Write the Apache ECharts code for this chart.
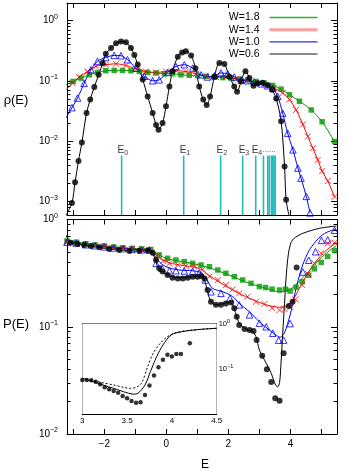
<!DOCTYPE html>
<html><head><meta charset="utf-8">
<script src="https://cdn.jsdelivr.net/npm/echarts@6/dist/echarts.min.js"></script>
<style>html,body{margin:0;padding:0;background:#fff}#c{width:347px;height:471px}</style>
</head><body><div id="c"></div>
<script>
// ---------------- DATA ----------------
// top panel: density of states rho(E), [E, rho]
const rhoW18 = [[-3.24,0.086],[-3.0,0.098],[-2.75,0.111],[-2.48,0.126],[-2.22,0.138],[-1.95,0.147],[-1.68,0.149],[-1.41,0.149],[-1.14,0.147],[-0.87,0.143],[-0.60,0.138],[-0.33,0.135],[-0.06,0.131],[0.20,0.131],[0.47,0.126],[0.74,0.124],[1.01,0.122],[1.28,0.119],[1.55,0.116],[1.82,0.113],[2.09,0.110],[2.35,0.107],[2.62,0.104],[2.89,0.098],[3.16,0.092],[3.43,0.084],[3.70,0.073],[3.97,0.059],[4.29,0.046],[4.67,0.033],[5.02,0.021],[5.42,0.0099]];
const rhoW14 = [[-3.24,0.070],[-3.02,0.092],[-2.81,0.116],[-2.54,0.143],[-2.27,0.173],[-1.95,0.185],[-1.62,0.192],[-1.30,0.180],[-0.98,0.158],[-0.66,0.143],[-0.33,0.138],[-0.01,0.143],[0.31,0.147],[0.63,0.143],[0.96,0.131],[1.28,0.119],[1.60,0.116],[1.92,0.116],[2.25,0.108],[2.57,0.100],[2.89,0.092],[3.22,0.084],[3.48,0.076],[3.75,0.063],[3.97,0.049],[4.18,0.033],[4.40,0.019],[4.56,0.012],[4.72,0.0077],[4.88,0.0049],[5.02,0.0032],[5.20,0.0022],[5.42,0.0012]];
const rhoW10 = [[-3.24,0.024],[-3.04,0.036],[-2.86,0.052],[-2.65,0.091],[-2.43,0.153],[-2.22,0.21],[-1.95,0.244],[-1.68,0.264],[-1.46,0.261],[-1.25,0.224],[-0.98,0.162],[-0.71,0.119],[-0.44,0.1005],[-0.23,0.104],[0.04,0.138],[0.31,0.173],[0.58,0.185],[0.85,0.163],[1.12,0.126],[1.33,0.116],[1.55,0.122],[1.76,0.135],[1.98,0.131],[2.19,0.116],[2.41,0.104],[2.62,0.1005],[2.84,0.0955],[3.05,0.0895],[3.27,0.083],[3.43,0.0759],[3.59,0.0552],[3.75,0.0292],[3.91,0.0136],[4.08,0.0072],[4.24,0.0036],[4.34,0.00245],[4.51,0.00122],[4.63,0.00065]];
const rhoW06 = [[-3.04,0.00095],[-2.94,0.0021],[-2.83,0.0047],[-2.72,0.0095],[-2.57,0.0295],[-2.45,0.049],[-2.32,0.079],[-2.18,0.126],[-2.05,0.197],[-1.95,0.282],[-1.78,0.349],[-1.62,0.422],[-1.46,0.45],[-1.30,0.437],[-1.14,0.349],[-1.03,0.269],[-0.92,0.186],[-0.76,0.105],[-0.60,0.055],[-0.44,0.0295],[-0.33,0.0186],[-0.25,0.0155],[-0.12,0.020],[-0.01,0.038],[0.10,0.081],[0.20,0.145],[0.37,0.251],[0.51,0.295],[0.63,0.309],[0.80,0.263],[0.94,0.162],[1.06,0.081],[1.19,0.049],[1.30,0.040],[1.41,0.055],[1.55,0.117],[1.71,0.197],[1.87,0.19],[2.03,0.117],[2.19,0.081],[2.28,0.066],[2.41,0.098],[2.55,0.145],[2.68,0.112],[2.81,0.083],[2.95,0.091],[3.11,0.093],[3.27,0.085],[3.41,0.071],[3.54,0.051],[3.70,0.0214],[3.81,0.0038],[3.86,0.00107]];
const rhoW06Ends = [[-3.23,0.0006],[3.95,0.0006]];   // where the W=0.6 curve meets the lower axis

// eigen-energy levels E_n (cyan impulses) and their tags
const levelE = [-1.44, 0.56, 1.75, 2.46, 2.88, 3.13, 3.27, 3.32, 3.39, 3.43, 3.47, 3.51];
const levelTags = ['E_0','E_1','E_2','E_3','E_4','......'];
const levelTop = 0.0058;
const levelTagAt = 0.0072;

// bottom panel: P(E), lines (theory) and points (simulation), [E, P]
const pW18Line = [[-3.24,0.636],[-2.16,0.578],[-1.09,0.538],[-0.55,0.527],[-0.33,0.484],[-0.01,0.435],[0.53,0.405],[1.06,0.377],[1.6,0.338],[2.14,0.293],[2.68,0.254],[3.22,0.228],[3.65,0.212],[3.9,0.217],[4.1,0.236],[4.4,0.288],[4.75,0.37],[5.1,0.47],[5.48,0.57]];
const pW18Pts = [[-3.2,0.63],[-2.9,0.615],[-2.6,0.595],[-2.3,0.58],[-2.0,0.567],[-1.7,0.555],[-1.4,0.545],[-1.1,0.538],[-0.8,0.532],[-0.5,0.525],[-0.23,0.467],[0.04,0.435],[0.31,0.419],[0.58,0.405],[0.85,0.39],[1.12,0.377],[1.39,0.363],[1.66,0.338],[1.92,0.315],[2.19,0.293],[2.46,0.273],[2.73,0.254],[3.0,0.237],[3.2,0.232],[3.41,0.224],[3.65,0.22],[3.84,0.224],[3.99,0.215],[4.18,0.234],[4.38,0.263],[4.59,0.302],[4.77,0.347],[4.99,0.398],[5.2,0.452],[5.42,0.513]];
const pW14Line = [[-3.24,0.612],[-2.16,0.56],[-1.09,0.53],[-0.55,0.52],[-0.33,0.467],[-0.01,0.405],[0.42,0.377],[1.06,0.351],[1.28,0.315],[1.6,0.273],[2.14,0.22],[2.68,0.184],[3.22,0.16],[3.65,0.152],[3.86,0.156],[4.1,0.182],[4.4,0.263],[4.7,0.363],[5.05,0.484],[5.48,0.61]];
const pW14Pts = [[-3.2,0.612],[-2.9,0.6],[-2.6,0.584],[-2.3,0.57],[-2.0,0.557],[-1.7,0.545],[-1.4,0.537],[-1.1,0.53],[-0.8,0.525],[-0.55,0.52],[-0.3,0.46],[-0.1,0.41],[0.10,0.39],[0.37,0.377],[0.63,0.368],[0.90,0.363],[1.17,0.343],[1.39,0.293],[1.66,0.273],[1.92,0.245],[2.14,0.223],[2.35,0.205],[2.62,0.191],[2.89,0.171],[3.16,0.163],[3.41,0.149],[3.65,0.143],[3.81,0.146],[3.99,0.152],[4.16,0.18],[4.38,0.245],[4.57,0.31],[4.77,0.39],[4.99,0.484],[5.2,0.6],[5.42,0.608]];
const pW10Line = [[-3.24,0.612],[-2.16,0.558],[-1.09,0.527],[-0.55,0.52],[-0.42,0.484],[-0.28,0.419],[-0.01,0.363],[0.42,0.338],[0.85,0.333],[1.12,0.319],[1.28,0.282],[1.49,0.228],[1.82,0.212],[2.14,0.191],[2.35,0.165],[2.68,0.138],[3.0,0.111],[3.32,0.0933],[3.55,0.0832],[3.67,0.0798],[3.8,0.0871],[3.9,0.105],[4.0,0.132],[4.2,0.24],[4.4,0.38],[4.6,0.513],[4.8,0.617],[5.0,0.708],[5.2,0.767],[5.48,0.813]];
const pW10Pts = [[-3.2,0.615],[-2.9,0.603],[-2.6,0.582],[-2.3,0.569],[-2.0,0.556],[-1.7,0.543],[-1.4,0.535],[-1.1,0.527],[-0.8,0.522],[-0.55,0.519],[-0.33,0.39],[-0.14,0.351],[0.10,0.333],[0.31,0.333],[0.58,0.331],[0.85,0.327],[1.06,0.319],[1.26,0.273],[1.44,0.212],[1.76,0.205],[2.05,0.184],[2.35,0.16],[2.68,0.129],[3.0,0.108],[3.22,0.1],[3.43,0.087],[3.62,0.075],[3.78,0.075],[3.99,0.107],[4.40,0.324],[4.59,0.417],[4.81,0.501],[5.0,0.638],[5.2,0.646],[5.42,0.794]];
const pW06Line = [[-3.24,0.716],[-3.13,0.644],[-2.91,0.6],[-2.5,0.569],[-2.0,0.537],[-1.5,0.519],[-1.0,0.509],[-0.6,0.511],[-0.39,0.45],[-0.28,0.363],[-0.12,0.327],[0.10,0.299],[0.42,0.287],[0.85,0.293],[1.12,0.303],[1.23,0.273],[1.33,0.212],[1.44,0.171],[1.60,0.16],[2.03,0.168],[2.14,0.16],[2.25,0.129],[2.35,0.108],[2.52,0.0966],[2.78,0.0899],[2.89,0.0809],[3.0,0.0607],[3.22,0.0456],[3.38,0.0368],[3.52,0.0286],[3.59,0.0276],[3.65,0.0302],[3.70,0.0479],[3.75,0.0851],[3.81,0.166],[3.87,0.316],[3.93,0.468],[4.0,0.589],[4.1,0.661],[4.4,0.743],[4.94,0.828],[5.48,0.869]];
const pW06Pts = [[-3.24,0.621],[-3.08,0.608],[-2.86,0.592],[-2.65,0.578],[-2.43,0.566],[-2.16,0.55],[-1.84,0.531],[-1.52,0.52],[-1.19,0.508],[-0.87,0.508],[-0.60,0.513],[-0.44,0.491],[-0.33,0.419],[-0.23,0.351],[-0.12,0.327],[0.04,0.303],[0.20,0.287],[0.37,0.282],[0.53,0.282],[0.69,0.287],[0.85,0.293],[1.01,0.293],[1.12,0.297],[1.23,0.282],[1.33,0.22],[1.44,0.171],[1.60,0.16],[1.76,0.16],[1.92,0.165],[2.09,0.168],[2.19,0.149],[2.27,0.124],[2.35,0.104],[2.52,0.0953],[2.68,0.0933],[2.81,0.0912],[2.91,0.0752],[3.09,0.0537],[3.24,0.0401],[3.38,0.0305],[3.51,0.0215],[3.65,0.0204],[3.78,0.0565],[3.95,0.156],[4.07,0.171],[4.20,0.356]];

// inset: zoom of W=0.6 near the band edge
const insetPts = [[3.0,0.0564],[3.05,0.0564],[3.1,0.0556],[3.15,0.0513],[3.2,0.0452],[3.25,0.0389],[3.3,0.0351],[3.35,0.0324],[3.4,0.0295],[3.45,0.0251],[3.5,0.0222],[3.55,0.0194],[3.6,0.0178],[3.65,0.0182],[3.7,0.0263],[3.75,0.0427],[3.8,0.0708],[3.85,0.108],[3.9,0.158],[3.95,0.204],[4.0,0.186],[4.05,0.212],[4.1,0.212],[4.2,0.365]];
const insetSolid = [[3.0,0.0617],[3.12,0.0518],[3.23,0.0438],[3.35,0.0369],[3.46,0.0311],[3.57,0.0275],[3.62,0.0286],[3.70,0.0438],[3.76,0.0861],[3.83,0.185],[3.90,0.335],[3.99,0.557],[4.11,0.659],[4.33,0.745],[4.5,0.783]];
const insetDashed = [[3.0,0.0617],[3.12,0.0545],[3.23,0.049],[3.35,0.0437],[3.46,0.0389],[3.53,0.0369],[3.60,0.0389],[3.66,0.0476],[3.73,0.111],[3.79,0.219],[3.87,0.365],[3.95,0.513],[4.05,0.631],[4.2,0.708],[4.5,0.785]];

// axis ranges and tick labels
const eRange = [-3.2, 5.5];
const eTicks = [-3,-2,-1,0,1,2,3,4,5];
const eLabels = [-2,0,2,4];
const rhoRange = [0.0006, 1.95];
const pRange = [0.01, 1];
const insetERange = [3, 4.5];
const insetETicks = [3,3.25,3.5,3.75,4,4.25,4.5];
const insetELabels = [3,3.5,4,4.5];
const insetPRange = [0.01, 1];
const insetPLabelExps = [-1, 0];
const seriesNames = ['W=1.8','W=1.4','W=1.0','W=0.6'];

// ---------------- CHART ----------------
const FONT = '"Liberation Sans", Arial, Helvetica, sans-serif';
const lg = v => Math.log10(v);
const tr = a => a.map(p => [p[0], lg(p[1])]);
const minus = v => (v < 0 ? '\u2212' + (-v) : String(v));

function logTicks(lo, hi) {
  const a = lg(lo) - 1e-9, b = lg(hi) + 1e-9, major = [], minor = [];
  for (let n = Math.floor(a); n <= Math.ceil(b); n++) {
    for (let k = 1; k <= 9; k++) {
      const v = n + Math.log10(k);
      if (v >= a && v <= b) (k === 1 ? major : minor).push(+v.toFixed(6));
    }
  }
  return { major, minor };
}
const pow10Fmt = v => { const n = Math.round(v); return '{b|10}{s|' + minus(n) + '}'; };

const xAxes = [], yAxes = [];
function frame(gi, xr, yr, o) {
  const xi = xAxes.length, yi = yAxes.length;
  const yt = logTicks(yr[0], yr[1]);
  const yLabs = o.yLabels || yt.major;
  const line = { show: true, onZero: false, lineStyle: { color: '#000', width: 1 } };
  const xTick = { show: true, inside: true, length: o.xTickLen, customValues: o.xTicks, lineStyle: { color: '#000', width: 1 } };
  const baseX = { gridIndex: gi, type: 'value', min: xr[0], max: xr[1], splitLine: { show: false }, axisLine: line };
  xAxes.push(Object.assign({}, baseX, { position: 'bottom', axisTick: xTick,
    axisLabel: o.xLabels ? { show: true, customValues: o.xLabels, formatter: o.xFmt, margin: o.xMargin, fontSize: o.xFont, color: '#000', fontFamily: FONT } : { show: false } }));
  xAxes.push(Object.assign({}, baseX, { position: 'top', axisTick: xTick, axisLabel: { show: false } }));
  const baseY = { gridIndex: gi, type: 'value', min: lg(yr[0]), max: lg(yr[1]), splitLine: { show: false } };
  ['left', 'right'].forEach(pos => {
    yAxes.push(Object.assign({}, baseY, { position: pos, axisLine: line,
      axisTick: { show: true, inside: true, length: o.yMajLen, customValues: yt.major, lineStyle: { color: '#000', width: 1 } },
      axisLabel: o.yLabelSide === pos ? { show: true, customValues: yLabs, formatter: pow10Fmt, margin: o.yMargin, rich: o.rich, color: '#000', fontFamily: FONT, fontSize: o.rich.b.fontSize } : { show: false } }));
    yAxes.push(Object.assign({}, baseY, { position: pos, axisLine: { show: false, onZero: false },
      axisTick: { show: true, inside: true, length: o.yMinLen, customValues: yt.minor, lineStyle: { color: '#000', width: 1 } },
      axisLabel: { show: false } }));
  });
  return { x: xi, y: yi };
}

const richMain = { b: { fontSize: 10, fontFamily: FONT, color: '#000' }, s: { fontSize: 7, fontFamily: FONT, color: '#000', padding: [0, 0, 7, 0] } };
const richInset = { b: { fontSize: 7.5, fontFamily: FONT, color: '#000' }, s: { fontSize: 5.5, fontFamily: FONT, color: '#000', padding: [0, 0, 5, 0] } };

const T = frame(0, eRange, rhoRange, { xTicks: eTicks, xTickLen: 5, yMajLen: 6, yMinLen: 3.5, yLabelSide: 'left', yMargin: 9, rich: richMain });
const B = frame(1, eRange, pRange, { xTicks: eTicks, xTickLen: 5, xLabels: eLabels, xFmt: v => minus(v), xMargin: 5, xFont: 10, yMajLen: 6, yMinLen: 3.5, yLabelSide: 'left', yMargin: 9, rich: richMain });
const I = frame(2, insetERange, insetPRange, { xTicks: insetETicks, xTickLen: 3, xLabels: insetELabels, xFmt: v => String(v), xMargin: 3, xFont: 8, yMajLen: 4, yMinLen: 2, yLabelSide: 'right', yLabels: insetPLabelExps, yMargin: 2, rich: richInset });

const colors = { 'W=1.8': '#009a00', 'W=1.4': '#ff0000', 'W=1.0': '#0000ff', 'W=0.6': '#000000' };
function mkLine(name, data, ax, extra) {
  return Object.assign({ type: 'line', name, xAxisIndex: ax.x, yAxisIndex: ax.y, data: tr(data), symbol: 'none', showSymbol: false,
    smooth: 0.3, clip: true, silent: true, z: 3, lineStyle: { color: colors[name] || '#000', width: 1 }, itemStyle: { color: colors[name] || '#000' } }, extra || {});
}
const markers = {
  'W=1.8': { symbol: 'rect', symbolSize: 5.5, itemStyle: { color: '#009a00' } },
  'W=1.4': { symbol: 'path://M0,0L10,10M10,0L0,10', symbolSize: 6, itemStyle: { color: 'none', borderColor: '#ff0000', borderWidth: 1 } },
  'W=1.0': { symbol: 'triangle', symbolSize: 6.5, itemStyle: { color: 'rgba(255,255,255,0)', borderColor: '#0000ff', borderWidth: 1 } },
  'W=0.6': { symbol: 'circle', symbolSize: 6, itemStyle: { color: '#000' } }
};
function mkPts(name, data, ax, size) {
  const m = markers[name];
  return { type: 'scatter', name: name + ' sim', xAxisIndex: ax.x, yAxisIndex: ax.y, data: tr(data), symbol: m.symbol,
    symbolSize: size || m.symbolSize, itemStyle: m.itemStyle, silent: true, z: 4, clip: true };
}

const series = [];
// energy levels
series.push({
  type: 'custom', name: 'levels', xAxisIndex: T.x, yAxisIndex: T.y, silent: true, z: 1,
  data: levelE.map(e => [e, lg(levelTop)]),
  renderItem: (params, api) => {
    const p1 = api.coord([api.value(0), api.value(1)]);
    const p0 = api.coord([api.value(0), lg(rhoRange[0])]);
    return { type: 'line', shape: { x1: p0[0], y1: p0[1], x2: p1[0], y2: p1[1] }, style: { stroke: '#1fbcbc', lineWidth: 1.6 } };
  }
});
series.push({
  type: 'scatter', name: 'levelTags', xAxisIndex: T.x, yAxisIndex: T.y, silent: true, z: 5, symbolSize: 0.1,
  data: levelTags.map((t, i) => [levelE[i], lg(levelTagAt)]),
  label: {
    show: true, position: 'inside', align: 'left', offset: [-4, 0], color: '#000',
    formatter: p => { const t = levelTags[p.dataIndex]; return t.indexOf('E_') === 0 ? '{e|E}{s|' + t.slice(2) + '}' : '{d|' + t + '}'; },
    rich: { e: { fontSize: 10, fontFamily: FONT, color: '#000' }, s: { fontSize: 7, fontFamily: FONT, color: '#000', padding: [6, 0, 0, 0] }, d: { fontSize: 8, fontFamily: FONT, color: '#000', padding: [0, 0, 0, 3] } }
  }
});
// top panel
const topData = { 'W=1.8': rhoW18, 'W=1.4': rhoW14, 'W=1.0': rhoW10, 'W=0.6': rhoW06 };
seriesNames.forEach(n => {
  const d = n === 'W=0.6' ? [rhoW06Ends[0]].concat(rhoW06, [rhoW06Ends[1]]) : topData[n];
  series.push(mkLine(n, d, T));
  series.push(mkPts(n, topData[n], T));
});
// bottom panel
const botLine = { 'W=1.8': pW18Line, 'W=1.4': pW14Line, 'W=1.0': pW10Line, 'W=0.6': pW06Line };
const botPts = { 'W=1.8': pW18Pts, 'W=1.4': pW14Pts, 'W=1.0': pW10Pts, 'W=0.6': pW06Pts };
seriesNames.forEach(n => {
  series.push(mkLine(n, botLine[n], B));
  series.push(mkPts(n, botPts[n], B));
});
// inset
series.push(mkLine('inset solid', insetSolid, I, { lineStyle: { color: '#000', width: 1 }, z: 6 }));
series.push(mkLine('inset dashed', insetDashed, I, { lineStyle: { color: '#000', width: 1, type: [2, 2] }, z: 6 }));
series.push(Object.assign(mkPts('W=0.6', insetPts, I, 4.5), { name: 'inset pts', z: 7 }));

const chart = echarts.init(document.getElementById('c'), null, { renderer: 'canvas' });
chart.setOption({
  animation: false,
  backgroundColor: '#fff',
  grid: [
    { left: 67, top: 3, width: 270, height: 212 },
    { left: 67, top: 219.5, width: 270, height: 214.5 },
    { left: 82.3, top: 323.5, width: 134.4, height: 90.5, show: true, backgroundColor: '#fff', borderWidth: 0, z: 5 }
  ],
  xAxis: xAxes,
  yAxis: yAxes,
  legend: {
    orient: 'vertical', right: 23, top: 7, align: 'right', itemWidth: 48, itemHeight: 12, itemGap: 1.2, selectedMode: false,
    textStyle: { fontSize: 10.5, fontFamily: FONT, color: '#000', padding: [0, 5, 0, 0] },
    data: [
      { name: 'W=1.8', lineStyle: { color: '#2fae2f', width: 1.4, opacity: 1 }, itemStyle: { opacity: 0 } },
      { name: 'W=1.4', lineStyle: { color: '#ff9c9c', width: 3, opacity: 1 }, itemStyle: { opacity: 0 } },
      { name: 'W=1.0', lineStyle: { color: '#2a2aff', width: 1.4, opacity: 1 }, itemStyle: { opacity: 0 } },
      { name: 'W=0.6', lineStyle: { color: '#8a8a8a', width: 2, opacity: 1 }, itemStyle: { opacity: 0 } }
    ]
  },
  graphic: [
    { type: 'text', x: 16, y: 100, style: { text: 'ρ(E)', font: '13px ' + FONT, fill: '#000', align: 'center', verticalAlign: 'middle', textAlign: 'center', textVerticalAlign: 'middle' } },
    { type: 'text', x: 16, y: 324, style: { text: 'P(E)', font: '13px ' + FONT, fill: '#000', align: 'center', verticalAlign: 'middle', textAlign: 'center', textVerticalAlign: 'middle' } },
    { type: 'text', x: 205, y: 465, style: { text: 'E', font: '12px ' + FONT, fill: '#000', align: 'center', verticalAlign: 'middle', textAlign: 'center', textVerticalAlign: 'middle' } }
  ],
  series
});
</script></body></html>
